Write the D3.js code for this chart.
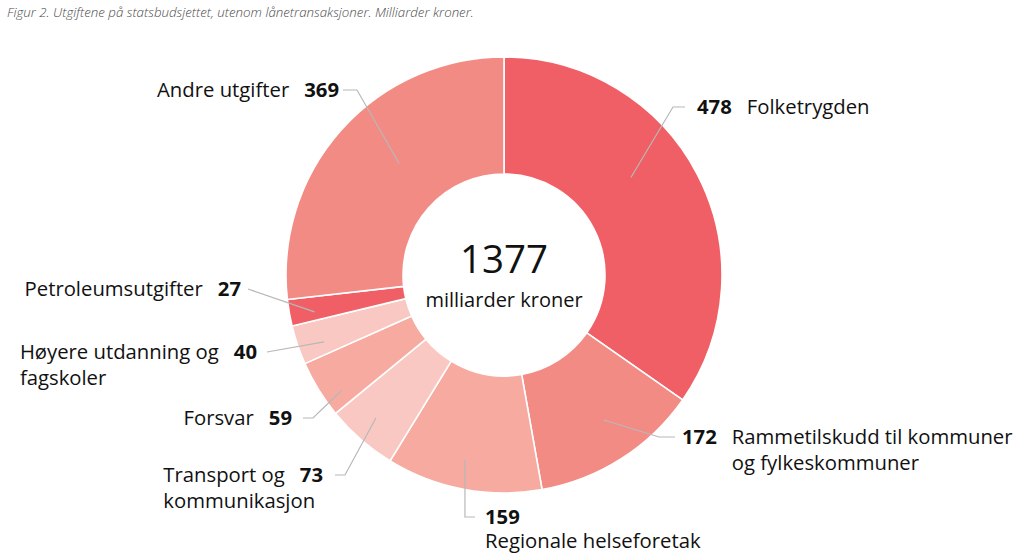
<!DOCTYPE html>
<html>
<head>
<meta charset="utf-8">
<script src="https://cdn.jsdelivr.net/npm/d3@7"></script>
<style>
  html, body { margin: 0; padding: 0; background: #fff; }
  svg { display: block; font-family: "Open Sans", "Noto Sans", sans-serif; }
</style>
</head>
<body>
<svg id="chart" width="1024" height="556"></svg>
<script>
// ---- data ----
const titleText = "Figur 2. Utgiftene på statsbudsjettet, utenom lånetransaksjoner. Milliarder kroner.";
const categories = [
  "Folketrygden",
  "Rammetilskudd til kommuner\nog fylkeskommuner",
  "Regionale helseforetak",
  "Transport og\nkommunikasjon",
  "Forsvar",
  "Høyere utdanning og\nfagskoler",
  "Petroleumsutgifter",
  "Andre utgifter"
];
const values = [478, 172, 159, 73, 59, 40, 27, 369];
const totalLabel = "1377";
const totalUnit = "milliarder kroner";

// ---- styling / layout (kept separate from data) ----
const colors = ["#f05f65", "#f38b85", "#f6aaa0", "#f9c8c2", "#f6aaa0", "#f9c8c2", "#f05f65", "#f38b85"];
const cx = 504, cy = 275, outerR = 218, innerR = 101;
const fontSize = 20.3, lineGap = 26, nameGap = 15;
// label layout: side, anchor x (number edge), y (first line middle),
// leader start (angle offset in deg from slice mid, radius), elbow horizontal length, gap to text
const labelLayout = [
  { side: "right", x: 697, y: 107, off: -10, r: 160, elbow: 12, gap: 12 },
  { side: "right", x: 682, y: 437, off: -2, r: 176, elbow: 16, gap: 7 },
  { side: "below", x: 485, y: 517, off: 1.2, r: 189, elbow: 9, gap: 10 },
  { side: "left",  x: 323, y: 475, off: 0.8, r: 192, elbow: 10, gap: 12 },
  { side: "left",  x: 292, y: 418, off: -3.7, r: 199, elbow: 10, gap: 11 },
  { side: "left",  x: 257, y: 352, off: -1.6, r: 192, elbow: 0, gap: 10 },
  { side: "left",  x: 241, y: 289, off: -1, r: 193, elbow: 0, gap: 7 },
  { side: "left",  x: 339, y: 90, off: 5, r: 153, elbow: 14, gap: 4 }
];

const svg = d3.select("#chart");

svg.append("text")
  .attr("x", 7).attr("y", 17)
  .attr("font-size", 13.3).attr("font-style", "italic").attr("font-weight", 300)
  .attr("fill", "#4a4a4a")
  .text(titleText);

const data = categories.map((c, i) => ({ name: c, value: values[i], color: colors[i], layout: labelLayout[i] }));

const pie = d3.pie().value(d => d.value).sort(null);
const arcs = pie(data);
const arc = d3.arc().innerRadius(innerR).outerRadius(outerR);

const g = svg.append("g").attr("transform", `translate(${cx},${cy})`);

g.selectAll("path.slice").data(arcs).join("path")
  .attr("class", "slice")
  .attr("d", arc)
  .attr("fill", d => d.data.color)
  .attr("stroke", "#fff")
  .attr("stroke-width", 1.6)
  .attr("stroke-linejoin", "round");

// center text
g.append("text").attr("x", 0).attr("y", -2)
  .attr("text-anchor", "middle").attr("font-size", 38.5).attr("fill", "#111")
  .text(totalLabel);
g.append("text").attr("x", 0).attr("y", 32)
  .attr("text-anchor", "middle").attr("font-size", 20).attr("fill", "#111")
  .text(totalUnit);

// labels and leaders
const labelsG = svg.append("g");
const linesG = svg.append("g");

arcs.forEach(a => {
  const L = a.data.layout;
  const mid = (a.startAngle + a.endAngle) / 2 + L.off * Math.PI / 180;
  const sx = cx + L.r * Math.sin(mid);
  const sy = cy - L.r * Math.cos(mid);
  const lines = a.data.name.split("\n");
  const numStr = String(a.data.value);
  let pts;
  if (L.side === "right") {
    const ex = L.x - L.gap;
    pts = [[sx, sy], [ex - L.elbow, L.y], [ex, L.y]];
    const t = labelsG.append("text").attr("x", L.x).attr("y", L.y).attr("dy", "0.35em")
      .attr("font-size", fontSize).attr("fill", "#111");
    t.append("tspan").attr("font-weight", "bold").text(numStr);
    t.append("tspan").attr("dx", nameGap).text(lines[0]);
    const numW = t.select("tspan").node().getComputedTextLength();
    for (let k = 1; k < lines.length; k++) {
      labelsG.append("text").attr("x", L.x + numW + nameGap).attr("y", L.y + k * lineGap).attr("dy", "0.35em")
        .attr("font-size", fontSize).attr("fill", "#111").text(lines[k]);
    }
  } else if (L.side === "below") {
    const ex = L.x - L.gap;
    pts = [[sx, sy], [sx, L.y], [ex, L.y]];
    labelsG.append("text").attr("x", L.x).attr("y", L.y).attr("dy", "0.35em")
      .attr("font-size", fontSize).attr("font-weight", "bold").attr("fill", "#111").text(numStr);
    labelsG.append("text").attr("x", L.x).attr("y", L.y + 24).attr("dy", "0.35em")
      .attr("font-size", fontSize).attr("fill", "#111").text(lines.join(" "));
  } else {
    const ex = L.x + L.gap;
    pts = L.elbow > 0 ? [[sx, sy], [ex + L.elbow, L.y], [ex, L.y]] : [[sx, sy], [ex, L.y]];
    const t = labelsG.append("text").attr("x", L.x).attr("y", L.y).attr("dy", "0.35em")
      .attr("text-anchor", "end").attr("font-size", fontSize).attr("fill", "#111");
    t.append("tspan").text(lines[0]);
    t.append("tspan").attr("dx", nameGap).attr("font-weight", "bold").text(numStr);
    const bb = t.node().getBBox();
    for (let k = 1; k < lines.length; k++) {
      labelsG.append("text").attr("x", bb.x).attr("y", L.y + k * lineGap).attr("dy", "0.35em")
        .attr("font-size", fontSize).attr("fill", "#111").text(lines[k]);
    }
  }
  linesG.append("path")
    .attr("d", d3.line()(pts))
    .attr("fill", "none").attr("stroke", "#b8b8b8").attr("stroke-width", 1.2);
});
</script>
</body>
</html>
